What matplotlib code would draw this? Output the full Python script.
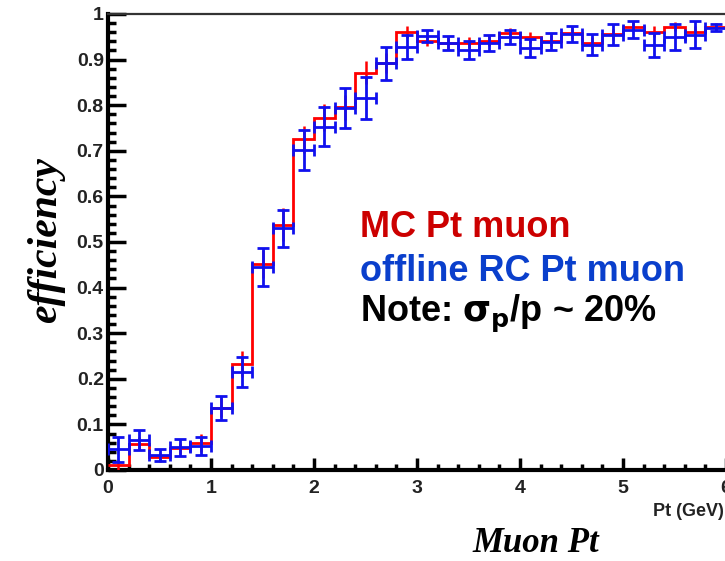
import numpy as np
import matplotlib
matplotlib.use("Agg")
import matplotlib.pyplot as plt
from matplotlib.ticker import MultipleLocator

# ---- data ----
bin_edges = np.round(np.arange(0, 6.0001, 0.2), 2)
mc_eff = [0.010, 0.058, 0.028, 0.048, 0.060, 0.137, 0.232, 0.452, 0.538, 0.725,
          0.773, 0.795, 0.871, 0.892, 0.961, 0.941, 0.936, 0.937, 0.941, 0.958,
          0.949, 0.941, 0.958, 0.937, 0.956, 0.972, 0.961, 0.972, 0.961, 0.972]
mc_err = [0.012, 0.015, 0.010, 0.012, 0.020, 0.020, 0.028, 0.030, 0.036, 0.030,
          0.030, 0.028, 0.025, 0.022, 0.013, 0.012, 0.012, 0.012, 0.012, 0.012,
          0.012, 0.012, 0.012, 0.012, 0.012, 0.010, 0.012, 0.010, 0.012, 0.008]
rc_eff = [0.045, 0.065, 0.032, 0.050, 0.052, 0.136, 0.215, 0.445, 0.530, 0.701,
          0.753, 0.793, 0.815, 0.892, 0.928, 0.952, 0.936, 0.921, 0.936, 0.950,
          0.925, 0.939, 0.956, 0.933, 0.955, 0.966, 0.932, 0.950, 0.955, 0.970]
rc_err = [0.028, 0.022, 0.013, 0.019, 0.020, 0.027, 0.033, 0.041, 0.041, 0.044,
          0.042, 0.044, 0.046, 0.036, 0.026, 0.014, 0.015, 0.019, 0.018, 0.015,
          0.020, 0.019, 0.018, 0.024, 0.022, 0.018, 0.027, 0.029, 0.029, 0.007]
x_ticks = [0, 1, 2, 3, 4, 5, 6]
y_ticks = [0, 0.1, 0.2, 0.3, 0.4, 0.5, 0.6, 0.7, 0.8, 0.9, 1]
y_tick_labels = ["0", "0.1", "0.2", "0.3", "0.4", "0.5", "0.6", "0.7", "0.8", "0.9", "1"]

W, H = 725, 561
fig = plt.figure(figsize=(W / 100, H / 100), dpi=100)
fig.patch.set_facecolor("white")

left, right, top, bottom = 108, 726, 14, 470
ax = fig.add_axes([left / W, 1 - bottom / H, (right - left) / W, (bottom - top) / H])
ax.set_xlim(0, 6)
ax.set_ylim(0, 1)

centers = (bin_edges[:-1] + bin_edges[1:]) / 2
half_w = np.diff(bin_edges) / 2

# MC: step histogram with small vertical error lines
ax.stairs(mc_eff, bin_edges, color="#ff0000", lw=2.0, baseline=None, zorder=3)
ax.errorbar(centers, mc_eff, yerr=mc_err, fmt="none", ecolor="#ff0000",
            elinewidth=1.8, capsize=0, zorder=3)

# RC: points with x/y error bars
ax.errorbar(centers, rc_eff, xerr=half_w, yerr=rc_err, fmt="none",
            ecolor="#1010ee", elinewidth=2.0, capsize=4.5, capthick=2.0, zorder=4)

# axes style (ROOT-like)
for s in ["left", "bottom"]:
    ax.spines[s].set_linewidth(3)
    ax.spines[s].set_color("black")
ax.spines["top"].set_linewidth(1.6)
ax.spines["top"].set_color("#333333")
ax.spines["right"].set_visible(False)

ax.set_xticks(x_ticks)
ax.set_xticklabels([str(t) for t in x_ticks])
ax.set_yticks(y_ticks)
ax.set_yticklabels(y_tick_labels)
ax.xaxis.set_minor_locator(MultipleLocator(0.2))
ax.yaxis.set_minor_locator(MultipleLocator(0.02))
ax.tick_params(axis="y", which="major", direction="in", length=13, width=2.5, pad=3)
ax.tick_params(axis="y", which="minor", direction="in", length=6, width=2.5)
ax.tick_params(axis="x", which="major", direction="in", length=9, width=2.5, pad=7)
ax.tick_params(axis="x", which="minor", direction="in", length=4, width=2.5)
ax.tick_params(top=False, right=False)
for lab in ax.get_xticklabels() + ax.get_yticklabels():
    lab.set_fontfamily("Liberation Sans")
    lab.set_fontweight("bold")
    lab.set_fontsize(14)
    lab.set_color("#222222")

# texts
fig.text(46 / W, 1 - 240 / H, "efficiency", rotation=90, ha="center", va="center",
         family="Liberation Serif", style="italic", weight="bold", fontsize=30)
fig.text(536 / W, 1 - 543 / H, "Muon Pt", ha="center", va="center",
         family="Liberation Serif", style="italic", weight="bold", fontsize=25)
fig.text(724 / W, 1 - 511 / H, "Pt (GeV)", ha="right", va="center",
         family="Liberation Sans", weight="bold", fontsize=13, color="#222222")

fig.text(360 / W, 1 - 237 / H, "MC Pt muon", ha="left", va="baseline",
         family="Liberation Sans", weight="bold", fontsize=26, color="#cc0000")
fig.text(360 / W, 1 - 281 / H, "offline RC Pt muon", ha="left", va="baseline",
         family="Liberation Sans", weight="bold", fontsize=26, color="#0a3fcc")
fig.text(360 / W, 1 - 322 / H, r"Note: $\mathbf{\sigma_p}$/p ~ 20%", ha="left", va="baseline",
         family="Liberation Sans", weight="bold", fontsize=26, color="black")

fig.savefig("out.png", dpi=100, facecolor="white")
